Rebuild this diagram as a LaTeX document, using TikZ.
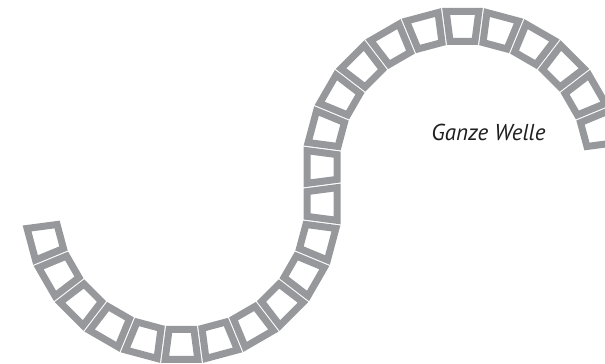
\documentclass[tikz,border=0pt]{standalone}
\usepackage{fontspec}
\setsansfont{PT Sans}
\definecolor{mGray}{HTML}{97989B}
\tikzset{glied/.style={fill=mGray,even odd rule}}

\begin{document}
\begin{tikzpicture}[x=1pt,y=1pt,font=\sffamily\itshape]
  \useasboundingbox (0,0) rectangle (605,364);
  \clip (0,0) rectangle (605,364);
  % lower half of the wave
  \foreach \a in {-165,-150,...,0}{%
    \fill[glied,shift={(181.5,160)},rotate=\a]
      (122,-15.46) -- (159,-20.33) -- (159,20.33) -- (122,15.46) -- cycle
      (129,-9.32) -- (152,-12.35) -- (152,12.35) -- (129,9.32) -- cycle;
  }
  % upper half of the wave
  \foreach \a in {15,30,...,180}{%
    \fill[glied,shift={(462.5,197)},rotate=\a]
      (122,-15.46) -- (159,-20.33) -- (159,20.33) -- (122,15.46) -- cycle
      (129,-9.32) -- (152,-12.35) -- (152,12.35) -- (129,9.32) -- cycle;
  }
  \node[anchor=base,inner sep=0pt,font=\sffamily\itshape\fontsize{23}{26}\selectfont,black!88] (lbl) at (488.5,223) {Ganze Welle};
\end{tikzpicture}
\end{document}
